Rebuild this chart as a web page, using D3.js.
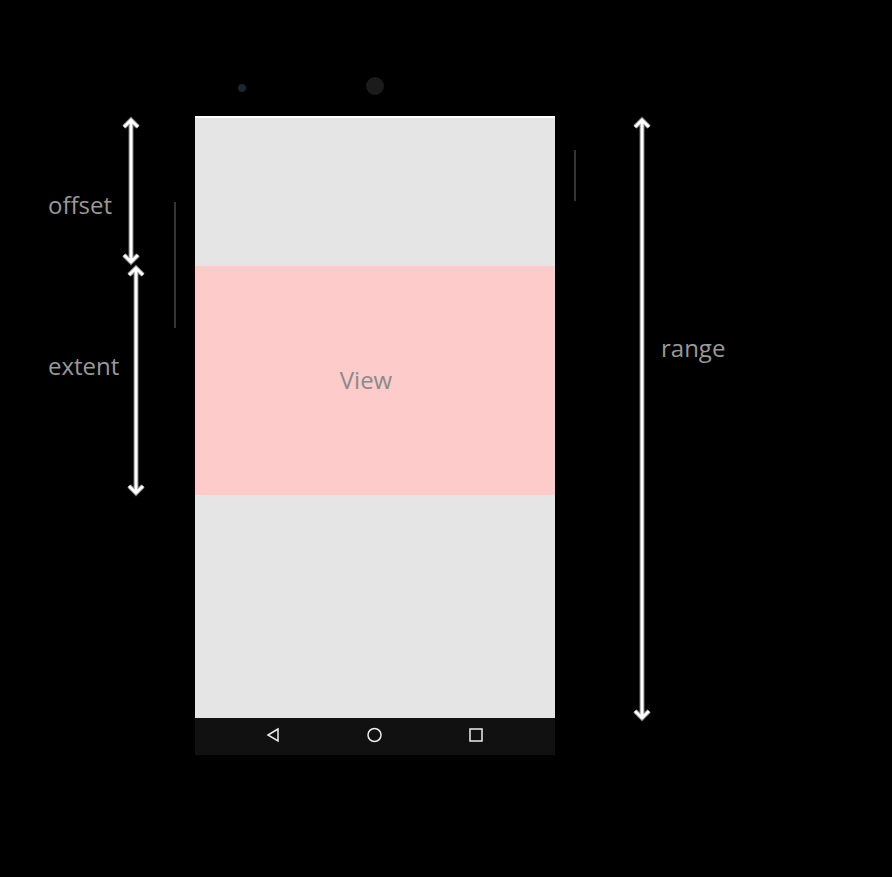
<!DOCTYPE html>
<html><head><meta charset="utf-8">
<script src="https://cdn.jsdelivr.net/npm/d3@7"></script>
<style>body{margin:0;background:#000}</style>
</head><body><div id="graf"></div>
<script>
// spans measured in screen units (0 = top of the screen, 602 = bottom)
const spanNames = ['offset', 'extent', 'range']
const spanStart = [4, 152, 4]
const spanEnd = [146, 377, 602]
const viewStart = 150
const viewEnd = 379
const navIcons = ['back', 'home', 'recent']

const svg = d3.select('#graf').append('svg')
  .attr('width', 892).attr('height', 877)
  .style('background', '#000')

const y = d3.scaleLinear().domain([0, 602]).range([116, 718])
const xNav = d3.scalePoint().domain(navIcons).range([273, 476])

// phone decorations
svg.append('circle').attr('cx', 242).attr('cy', 88).attr('r', 4).attr('fill', '#1c2630')
svg.append('circle').attr('cx', 375).attr('cy', 86).attr('r', 9).attr('fill', '#1b1b1b')
svg.append('line').attr('x1', 175).attr('x2', 175).attr('y1', 202).attr('y2', 328)
  .attr('stroke', '#333').attr('stroke-width', 2)
svg.append('line').attr('x1', 575).attr('x2', 575).attr('y1', 150).attr('y2', 201)
  .attr('stroke', '#333').attr('stroke-width', 2)

// screen
svg.append('rect').attr('x', 195).attr('width', 360)
  .attr('y', y(0)).attr('height', y(602) - y(0)).attr('fill', '#e5e5e5')
svg.append('rect').attr('x', 195).attr('width', 360)
  .attr('y', y(0)).attr('height', 2).attr('fill', '#fff')
svg.append('rect').attr('x', 195).attr('width', 360)
  .attr('y', y(viewStart)).attr('height', y(viewEnd) - y(viewStart)).attr('fill', '#fecbcb')
svg.append('text').attr('x', 366).attr('y', (y(viewStart) + y(viewEnd)) / 2 + 8)
  .attr('text-anchor', 'middle').attr('fill', '#8a8a8a')
  .style('font', '24px "Open Sans", sans-serif').text('View')

// nav bar
svg.append('rect').attr('x', 195).attr('width', 360).attr('y', 718).attr('height', 37).attr('fill', '#111')
const ny = 735
const ng = svg.append('g').attr('fill', 'none').attr('stroke', '#eee').attr('stroke-width', 1.5)
ng.append('path').attr('d', `M${xNav('back') + 5},${ny - 6}L${xNav('back') - 5},${ny}L${xNav('back') + 5},${ny + 6}Z`)
ng.append('circle').attr('cx', xNav('home')).attr('cy', ny).attr('r', 6.5)
ng.append('rect').attr('x', xNav('recent') - 6).attr('y', ny - 6).attr('width', 12).attr('height', 12)

// arrows
const arrowX = [131, 136, 642]
const labelPos = [[48, 214], [48, 375], [661, 357]]
spanNames.forEach((name, i) => {
  const x = arrowX[i], y0 = y(spanStart[i]), y1 = y(spanEnd[i])
  const d = `M${x},${y0}L${x},${y1}M${x - 7},${y0 + 7}L${x},${y0}L${x + 7},${y0 + 7}M${x - 7},${y1 - 7}L${x},${y1}L${x + 7},${y1 - 7}`
  svg.append('path').attr('d', d).attr('fill', 'none').attr('stroke', '#777').attr('stroke-width', 5)
  svg.append('path').attr('d', d).attr('fill', 'none').attr('stroke', '#fff').attr('stroke-width', 3)
  svg.append('text').attr('x', labelPos[i][0]).attr('y', labelPos[i][1])
    .attr('fill', '#999').style('font', '24px "Open Sans", sans-serif').text(name)
})
</script></body></html>
